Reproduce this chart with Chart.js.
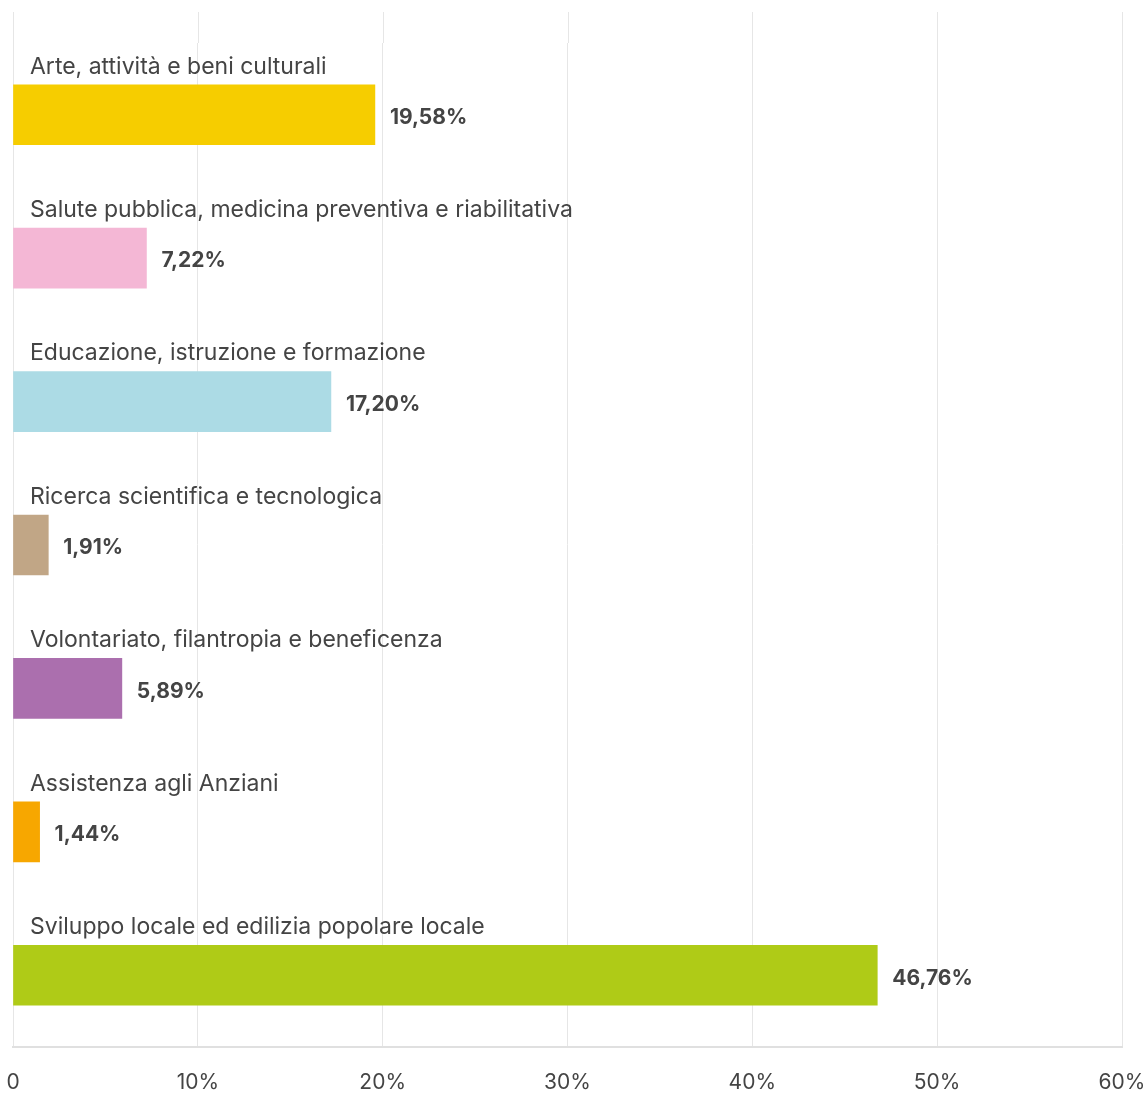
<!DOCTYPE html>
<html lang="it">
<head>
<meta charset="utf-8">
<title>Settori di intervento</title>
<script src="https://cdn.jsdelivr.net/npm/chart.js@4.4.1/dist/chart.umd.min.js"></script>
<style>
  html, body { margin: 0; padding: 0; background: #fff; }
  #wrap { width: 1147px; height: 1093px; position: relative; }
</style>
</head>
<body>
<div id="wrap"><canvas id="myChart"></canvas></div>
<script>
// dati
const categorie = [
  'Arte, attività e beni culturali',
  'Salute pubblica, medicina preventiva e riabilitativa',
  'Educazione, istruzione e formazione',
  'Ricerca scientifica e tecnologica',
  'Volontariato, filantropia e beneficenza',
  'Assistenza agli Anziani',
  'Sviluppo locale ed edilizia popolare locale'
];
const percentuali = [19.58, 7.22, 17.20, 1.91, 5.89, 1.44, 46.76];
const etichette = ['19,58%', '7,22%', '17,20%', '1,91%', '5,89%', '1,44%', '46,76%'];
const colori = ['#f6cd00', '#f4b7d5', '#acdbe5', '#c1a686', '#ab6fae', '#f7a700', '#afcb17'];
const tickX = [0, 10, 20, 30, 40, 50, 60];

const FONT = 'Inter, "Open Sans", sans-serif';
const TESTO = '#444444';

// linee verticali della griglia prolungate sopra l'area del grafico
const prolungaGriglia = {
  id: 'prolungaGriglia',
  beforeDatasetsDraw(chart) {
    const { ctx, chartArea, scales } = chart;
    ctx.save();
    ctx.strokeStyle = '#e6e6e6';
    ctx.lineWidth = 1;
    tickX.forEach(v => {
      const x = Math.round(scales.x.getPixelForValue(v)) + 0.5;
      ctx.beginPath();
      ctx.moveTo(x, 12);
      ctx.lineTo(x, chartArea.top);
      ctx.stroke();
    });
    ctx.restore();
  }
};

// nome della categoria sopra la barra e valore a destra
const etichetteBarre = {
  id: 'etichetteBarre',
  afterDatasetsDraw(chart) {
    const { ctx } = chart;
    const meta = chart.getDatasetMeta(0);
    ctx.save();
    ctx.fillStyle = TESTO;
    ctx.textBaseline = 'middle';
    meta.data.forEach((bar, i) => {
      ctx.font = '400 23px ' + FONT;
      ctx.textAlign = 'left';
      ctx.fillText(categorie[i], 30, bar.y - 48);
      ctx.font = '700 21px ' + FONT;
      ctx.fillText(etichette[i], bar.x + 15, bar.y + 3);
    });
    ctx.restore();
  }
};

new Chart(document.getElementById('myChart'), {
  type: 'bar',
  data: {
    labels: categorie,
    datasets: [{
      data: percentuali,
      backgroundColor: colori,
      borderWidth: 0,
      barThickness: 60
    }]
  },
  plugins: [prolungaGriglia, etichetteBarre],
  options: {
    indexAxis: 'y',
    responsive: true,
    maintainAspectRatio: false,
    animation: false,
    layout: { padding: { left: 13, right: 25, top: 43, bottom: 0 } },
    plugins: {
      legend: { display: false },
      tooltip: { enabled: false },
      title: { display: false }
    },
    scales: {
      x: {
        type: 'linear',
        min: 0,
        max: 60,
        afterBuildTicks: (scale) => { scale.ticks = tickX.map(v => ({ value: v })); },
        afterFit: (scale) => {
          scale.height = 46;
          scale.paddingLeft = 0;
          scale.paddingRight = 0;
        },
        grid: { color: '#e6e6e6', lineWidth: 1, drawTicks: false },
        border: { color: '#e0e0e0', width: 2 },
        ticks: {
          padding: 23,
          color: TESTO,
          font: { family: FONT, size: 21 },
          maxRotation: 0,
          callback: (v) => v === 0 ? '0' : v + '%'
        }
      },
      y: {
        display: false,
        offset: true
      }
    }
  }
});
</script>
</body>
</html>
